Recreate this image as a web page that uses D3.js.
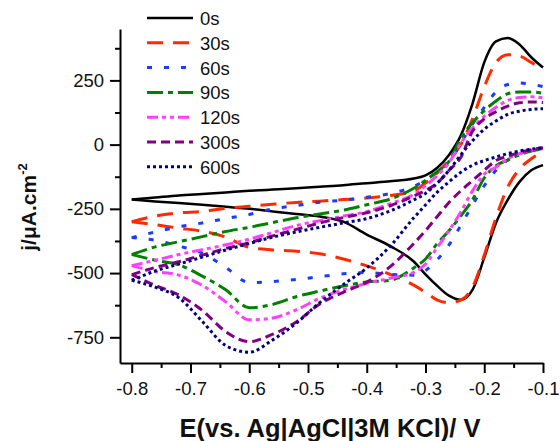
<!DOCTYPE html>
<html>
<head>
<meta charset="utf-8">
<script src="https://cdn.jsdelivr.net/npm/d3@7"></script>
<style>
  html, body { margin: 0; padding: 0; background: #fff; }
  svg { display: block; font-family: "Liberation Sans", Arial, sans-serif; }
</style>
</head>
<body>
<div id="chart"></div>
<script>
// potential grid (V vs Ag|AgCl) shared by every branch
const E = [-0.8, -0.76, -0.72, -0.68, -0.64, -0.6, -0.56, -0.52, -0.48, -0.44, -0.4, -0.36,
           -0.32, -0.3, -0.28, -0.26, -0.24, -0.22, -0.2, -0.18, -0.16, -0.14, -0.12, -0.1];

const labels = ['0s', '30s', '60s', '90s', '120s', '300s', '600s'];

// upper branch (anodic) j values, µA/cm², same order as E
const up0   = [-214, -206, -198, -192, -186, -180, -175, -170, -164, -158, -150, -143, -132, -120, -90, -40, 35, 160, 320, 402, 415, 390, 340, 300];
const up30  = [-300, -278, -266, -260, -248, -240, -232, -225, -220, -214, -208, -198, -180, -150, -110, -60, 0, 100, 225, 320, 350, 345, 320, 290];
const up60  = [-362, -340, -320, -305, -288, -272, -250, -237, -224, -216, -205, -190, -163, -138, -105, -70, 5, 80, 145, 205, 234, 240, 235, 226];
const up90  = [-428, -398, -378, -358, -338, -322, -303, -285, -270, -255, -234, -212, -170, -140, -105, -65, 25, 85, 132, 170, 198, 205, 205, 200];
const up120 = [-471, -450, -428, -409, -390, -368, -342, -315, -296, -278, -261, -230, -193, -160, -120, -70, 5, 65, 110, 145, 172, 183, 186, 182];
const up300 = [-506, -478, -456, -430, -404, -382, -355, -330, -305, -284, -265, -238, -200, -178, -150, -100, -50, 52, 100, 128, 150, 163, 166, 164];
const up600 = [-528, -492, -465, -438, -410, -385, -360, -340, -322, -305, -288, -258, -215, -190, -150, -100, -40, 15, 60, 92, 118, 130, 137, 140];

// lower branch (cathodic) j values, same order as E
const dn0   = [-214, -221, -227, -234, -242, -250, -260, -270, -280, -300, -350, -395, -455, -505, -550, -588, -604, -565, -440, -305, -215, -145, -100, -80];
const dn30  = [-300, -312, -325, -337, -360, -400, -410, -415, -425, -445, -472, -505, -547, -575, -605, -615, -605, -555, -430, -285, -165, -95, -55, -27];
const dn60  = [-362, -372, -395, -422, -478, -537, -533, -525, -514, -503, -498, -505, -508, -490, -448, -390, -315, -235, -160, -100, -60, -35, -25, -15];
const dn90  = [-428, -450, -468, -512, -565, -635, -622, -592, -570, -550, -535, -528, -480, -445, -385, -335, -278, -215, -130, -82, -60, -40, -25, -15];
const dn120 = [-471, -494, -508, -548, -612, -682, -675, -643, -598, -565, -540, -520, -497, -465, -400, -335, -262, -180, -115, -88, -55, -35, -22, -15];
const dn300 = [-506, -548, -585, -645, -728, -767, -738, -690, -620, -575, -535, -475, -385, -335, -280, -225, -180, -140, -100, -62, -45, -30, -20, -12];
const dn600 = [-528, -555, -596, -688, -782, -808, -760, -695, -615, -545, -480, -395, -285, -235, -185, -145, -108, -80, -62, -48, -35, -25, -18, -12];

const xTicks = [-0.8, -0.7, -0.6, -0.5, -0.4, -0.3, -0.2, -0.1];
const yTicks = [-750, -500, -250, 0, 250];

const ups = [up0, up30, up60, up90, up120, up300, up600];
const dns = [dn0, dn30, dn60, dn90, dn120, dn300, dn600];

// line styles
const colors = ['#000000', '#ff2a00', '#1a3cff', '#008000', '#ff40ff', '#800080', '#000080'];
const dashes = [null, '16,10', '5,12', '16,5,5,5', '11,4,4,4,4,4', '9,5', '3,3'];
const widths = [2.5, 3, 3, 3, 3, 3, 3];

const width = 560, height = 441;
const plot = { left: 120, right: 543, top: 29, bottom: 363 };

const svg = d3.select('#chart').append('svg')
  .attr('width', width)
  .attr('height', height);

const x = d3.scaleLinear().domain([-0.82, -0.1]).range([plot.left, plot.right]);
const y = d3.scaleLinear().domain([-850, 450]).range([plot.bottom, plot.top]);

const line = d3.line()
  .x(d => x(d[0]))
  .y(d => y(d[1]))
  .curve(d3.curveMonotoneX);

// curves
ups.forEach((u, i) => {
  [u, dns[i]].forEach(branch => {
    svg.append('path')
      .datum(E.map((e, k) => [e, branch[k]]))
      .attr('d', line)
      .attr('fill', 'none')
      .attr('stroke', colors[i])
      .attr('stroke-width', widths[i])
      .attr('stroke-dasharray', dashes[i]);
  });
});

// x axis, major + minor ticks
svg.append('g')
  .attr('transform', `translate(0,${plot.bottom})`)
  .call(d3.axisBottom(x).tickValues(xTicks).tickSize(10).tickSizeOuter(0).tickPadding(9)
    .tickFormat(d => d.toFixed(1)));
svg.append('g')
  .attr('transform', `translate(0,${plot.bottom})`)
  .call(d3.axisBottom(x).tickValues(xTicks.slice(1).map(t => t - 0.05)).tickSize(5).tickSizeOuter(0).tickFormat(''))
  .select('.domain').remove();

// y axis
svg.append('g')
  .attr('transform', `translate(${plot.left},0)`)
  .call(d3.axisLeft(y).tickValues(yTicks).tickSize(10).tickSizeOuter(0).tickPadding(6)
    .tickFormat(d => String(d)));
svg.append('g')
  .attr('transform', `translate(${plot.left},0)`)
  .call(d3.axisLeft(y).tickValues(yTicks.map(t => t + 125)).tickSize(5).tickSizeOuter(0).tickFormat(''))
  .select('.domain').remove();

svg.selectAll('.domain, .tick line').attr('stroke', '#000').attr('stroke-width', 2);
svg.selectAll('.tick text')
  .attr('font-family', '"Liberation Sans", Arial, sans-serif')
  .attr('font-size', 18.5)
  .attr('fill', '#111');

// axis titles
svg.append('text')
  .attr('x', 330)
  .attr('y', 437)
  .attr('text-anchor', 'middle')
  .attr('font-size', 25.5)
  .attr('font-weight', 'bold')
  .attr('fill', '#111')
  .text('E(vs. Ag|AgCl|3M KCl)/ V');

const yTitle = svg.append('text')
  .attr('transform', 'translate(36,207) rotate(-90)')
  .attr('text-anchor', 'middle')
  .attr('font-size', 21)
  .attr('font-weight', 'bold')
  .attr('fill', '#111');
yTitle.append('tspan').text('j/μA.cm');
yTitle.append('tspan').attr('dy', -9).attr('font-size', 13).text('-2');

// legend
const legend = svg.append('g');
labels.forEach((lab, i) => {
  const cy = 18 + i * 24.8;
  legend.append('line')
    .attr('x1', 147).attr('x2', 193)
    .attr('y1', cy).attr('y2', cy)
    .attr('stroke', colors[i])
    .attr('stroke-width', widths[i])
    .attr('stroke-dasharray', dashes[i]);
  legend.append('text')
    .attr('x', 200)
    .attr('y', cy + 7)
    .attr('font-size', 18.5)
    .attr('fill', '#111')
    .text(lab);
});
</script>
</body>
</html>
